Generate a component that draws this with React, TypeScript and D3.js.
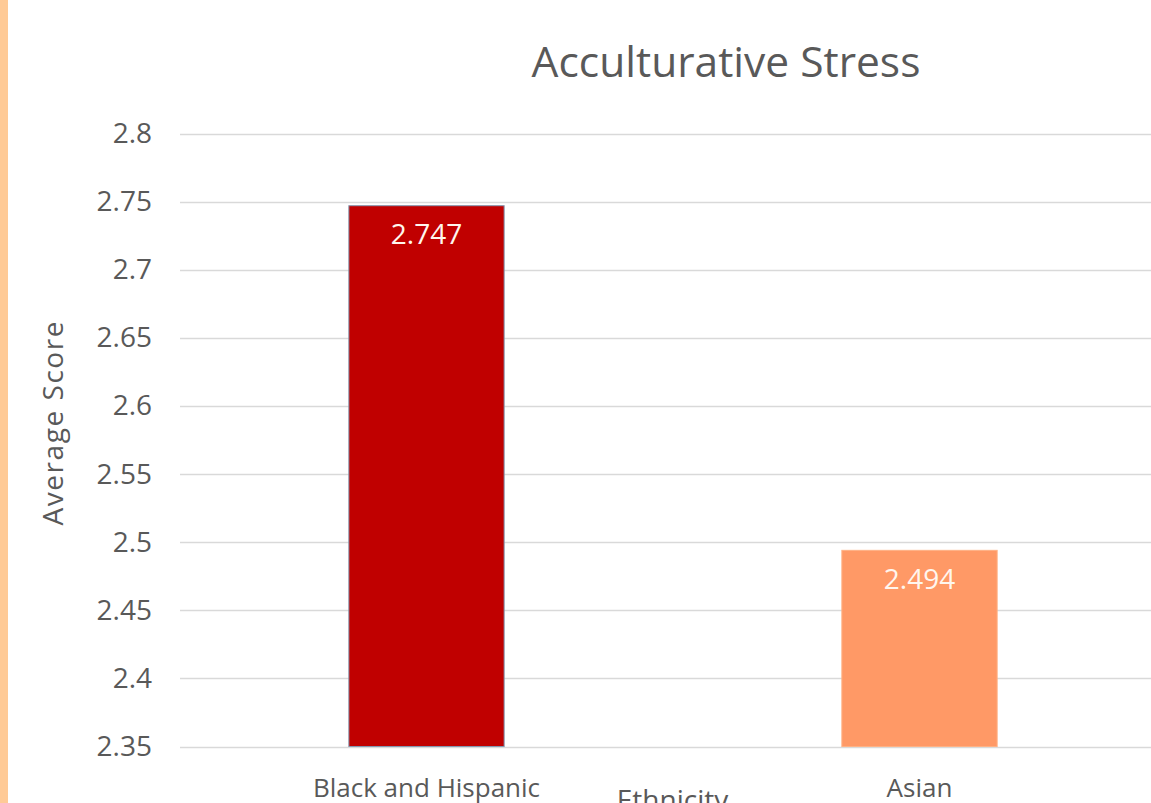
import React from "react";
import * as d3 from "d3";

const categories = ["Black and Hispanic", "Asian"];
const values = [2.747, 2.494];
const barColors = ["#C00000", "#FF9966"];
const barStrokes = ["#8497B0", "#FFB184"];
const yTicks = [2.35, 2.4, 2.45, 2.5, 2.55, 2.6, 2.65, 2.7, 2.75, 2.8];
const title = "Acculturative Stress";
const yLabel = "Average Score";
const xLabel = "Ethnicity";

const W = 1151;
const H = 803;
const FONT = "'Open Sans', 'Noto Sans', sans-serif";
const GRAY = "#595959";

export default function App() {
  const plotLeft = 180;
  const plotRight = 1166;
  const plotTop = 133.5;
  const plotBottom = 746.5;

  const x = d3
    .scaleBand<string>()
    .domain(categories)
    .range([plotLeft, plotRight])
    .paddingInner(0.685)
    .paddingOuter(0.3425);
  const y = d3.scaleLinear().domain([2.35, 2.8]).range([plotBottom, plotTop]);

  return (
    <svg
      width={W}
      height={H}
      style={{ position: "absolute", left: 0, top: 0, display: "block", background: "#fff" }}
    >
      <rect x={0} y={0} width={W} height={H} fill="#ffffff" />
      <rect x={0} y={0} width={8} height={H} fill="#FFCA96" />

      <text
        x={726}
        y={76.5}
        textAnchor="middle"
        fontFamily={FONT}
        fontSize={42.5}
        fill={GRAY}
      >
        {title}
      </text>

      {yTicks.map((t) => (
        <g key={t}>
          <line
            x1={plotLeft}
            x2={plotRight}
            y1={Math.round(y(t)) + 0.5}
            y2={Math.round(y(t)) + 0.5}
            stroke="#D9D9D9"
            strokeWidth={1.5}
          />
          <text
            x={152}
            y={y(t) + 9.5}
            textAnchor="end"
            fontFamily={FONT}
            fontSize={28}
            fill={GRAY}
          >
            {d3.format("")(t)}
          </text>
        </g>
      ))}

      {categories.map((c, i) => {
        const bx = x(c) as number;
        const by = y(values[i]);
        return (
          <g key={c}>
            <rect
              x={bx}
              y={by}
              width={x.bandwidth()}
              height={plotBottom - by}
              fill={barColors[i]}
              stroke={barStrokes[i]}
              strokeWidth={1}
            />
            <text
              x={bx + x.bandwidth() / 2}
              y={by + 38.5}
              textAnchor="middle"
              fontFamily={FONT}
              fontSize={28}
              fill="#FFF6EE"
            >
              {values[i].toFixed(3)}
            </text>
            <text
              x={bx + x.bandwidth() / 2}
              y={796.5}
              textAnchor="middle"
              fontFamily={FONT}
              fontSize={26}
              fill={GRAY}
            >
              {c}
            </text>
          </g>
        );
      })}

      <text
        x={672.5}
        y={810}
        textAnchor="middle"
        fontFamily={FONT}
        fontSize={28}
        fill={GRAY}
      >
        {xLabel}
      </text>

      <text
        transform={`translate(63,423.5) rotate(-90)`}
        textAnchor="middle"
        fontFamily={FONT}
        fontSize={28}
        textLength={204}
        lengthAdjust="spacing"
        fill={GRAY}
      >
        {yLabel}
      </text>
    </svg>
  );
}
